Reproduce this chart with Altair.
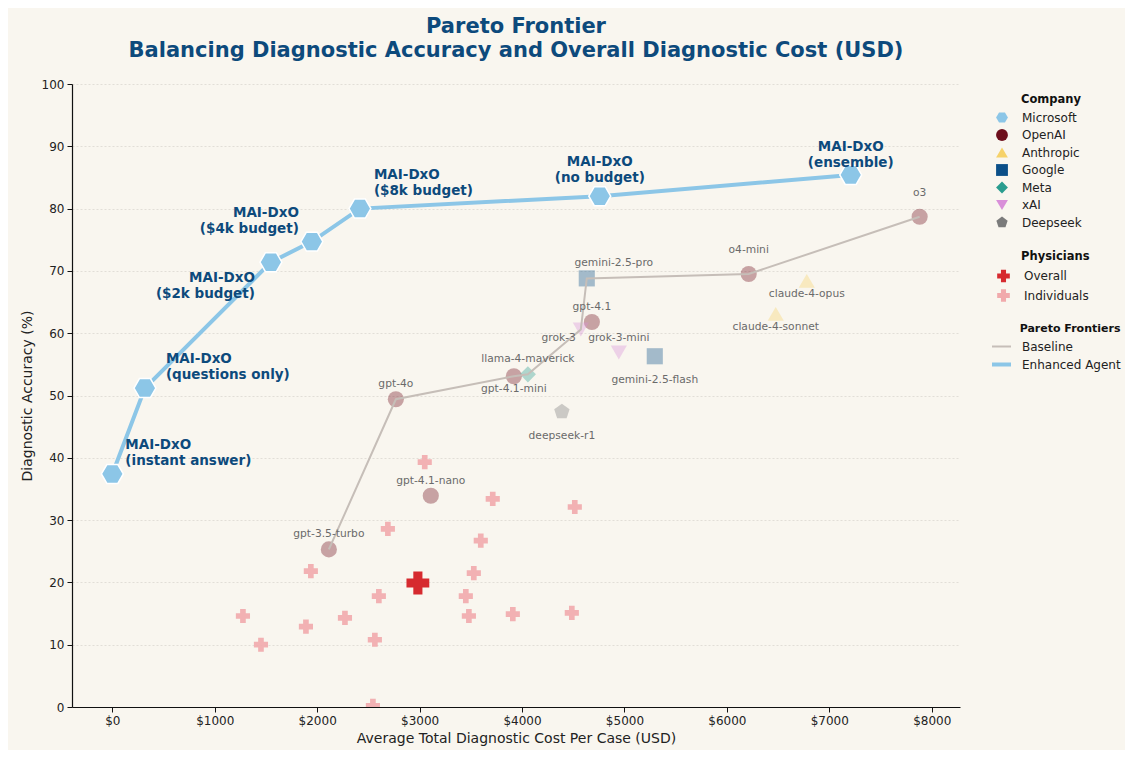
import altair as alt
import pandas as pd

FONT = "DejaVu Sans"
PAD = "\u200b" + "\u00a0" * 8   # indent legend titles to line up with the labels

# ---------------- data ----------------
companies = ["Microsoft", "OpenAI", "Anthropic", "Google", "Meta", "xAI", "Deepseek"]
company_colors = ["#8cc6e7", "#6e0f1c", "#f6d26a", "#0b4f88", "#2a9d8f", "#d98fd9", "#7b7b7b"]
HEXAGON = "M-1,0L-0.5,-0.866L0.5,-0.866L1,0L0.5,0.866L-0.5,0.866Z"
PENTAGON = "M0,-1L0.951,-0.309L0.588,0.809L-0.588,0.809L-0.951,-0.309Z"
company_shapes = [HEXAGON, "circle", "triangle-up", "square", "diamond", "triangle-down", PENTAGON]

# MAI-DxO (Microsoft, enhanced agent)
mai_labels = ["instant answer", "questions only", "$2k budget", "$4k budget",
              "$8k budget", "no budget", "ensemble"]
mai_cost = [0, 318, 1548, 1948, 2417, 4759, 7209]
mai_acc = [37.4, 51.2, 71.4, 74.7, 80.0, 82.0, 85.4]

# Baseline models
model_names = ["o3", "o4-mini", "gpt-4.1", "gpt-4.1-mini", "gpt-4o", "gpt-4.1-nano",
               "gpt-3.5-turbo", "gemini-2.5-pro", "gemini-2.5-flash", "claude-4-opus",
               "claude-4-sonnet", "grok-3", "grok-3-mini", "llama-4-maverick", "deepseek-r1"]
model_company = ["OpenAI", "OpenAI", "OpenAI", "OpenAI", "OpenAI", "OpenAI", "OpenAI",
                 "Google", "Google", "Anthropic", "Anthropic", "xAI", "xAI", "Meta", "Deepseek"]
model_cost = [7882, 6213, 4682, 3920, 2768, 3109, 2114, 4632, 5296, 6780, 6477, 4574, 4945, 4057, 4389]
model_acc = [78.7, 69.5, 61.8, 53.1, 49.4, 33.9, 25.3, 68.8, 56.3, 68.4, 63.1, 60.6, 56.9, 53.4, 47.4]

baseline_frontier = ["gpt-3.5-turbo", "gpt-4o", "gpt-4.1-mini", "llama-4-maverick",
                     "grok-3", "gemini-2.5-pro", "o4-mini", "o3"]

# Physicians
phys_cost = [3050, 3714, 4515, 2690, 3597, 1938, 3529, 2602, 3451, 1275, 2271, 3481,
             3910, 4486, 1890, 1451, 2563, 2544]
phys_acc = [39.3, 33.4, 32.1, 28.6, 26.7, 21.8, 21.5, 17.8, 17.8, 14.6, 14.3, 14.6,
            14.9, 15.1, 12.9, 10.0, 10.8, 0.2]
overall_cost = [2983]
overall_acc = [19.9]

phys_types = ["Overall", "Individuals"]
phys_colors = ["#d62a2f", "#f1aaac"]
frontier_types = ["Baseline", "Enhanced Agent"]
frontier_colors = ["#c6beb8", "#8cc6e7"]

# ---------------- tables ----------------
df_models = pd.DataFrame({"name": model_names, "company": model_company,
                          "cost": model_cost, "acc": model_acc})
df_mai = pd.DataFrame({"name": mai_labels, "company": "Microsoft",
                       "cost": mai_cost, "acc": mai_acc})
df_mai["label"] = ["MAI-DxO\n(" + s + ")" for s in mai_labels]

rows = []
for i, n in enumerate(baseline_frontier):
    j = model_names.index(n)
    rows.append({"frontier": "Baseline", "cost": model_cost[j], "acc": model_acc[j], "ord": i})
for i, (c, a) in enumerate(zip(mai_cost, mai_acc)):
    rows.append({"frontier": "Enhanced Agent", "cost": c, "acc": a, "ord": i})
df_frontier = pd.DataFrame(rows)

df_phys = pd.DataFrame({"type": "Individuals", "cost": phys_cost, "acc": phys_acc})
df_overall = pd.DataFrame({"type": "Overall", "cost": overall_cost, "acc": overall_acc})

# ---------------- encodings ----------------
X = alt.X("cost:Q",
          scale=alt.Scale(domain=[-394, 8276], nice=False, zero=False),
          axis=alt.Axis(title="Average Total Diagnostic Cost Per Case (USD)",
                        values=list(range(0, 8001, 1000)),
                        labelExpr="'$' + datum.value", grid=False))
Y = alt.Y("acc:Q",
          scale=alt.Scale(domain=[0, 100], nice=False),
          axis=alt.Axis(title="Diagnostic Accuracy (%)", values=list(range(0, 101, 10)),
                        grid=True, gridColor="#dcd8d0", gridDash=[2, 2], gridWidth=0.8))

company_legend = alt.Legend(title=["", PAD + "Company"], titleLineHeight=8,
                            symbolOpacity=1, symbolStrokeWidth=0,
                            symbolSize=140, symbolOffset=7, labelOffset=14)
color_company = alt.Color("company:N",
                          scale=alt.Scale(domain=companies, range=company_colors),
                          legend=company_legend)
shape_company = alt.Shape("company:N",
                          scale=alt.Scale(domain=companies, range=company_shapes),
                          legend=company_legend)

phys_legend = alt.Legend(title=["", PAD + "Physicians"], titleLineHeight=10,
                         symbolOpacity=1, symbolSize=160, symbolOffset=7, labelOffset=13)
fill_phys = alt.Fill("type:N", scale=alt.Scale(domain=phys_types, range=phys_colors),
                     legend=phys_legend)

front_legend = alt.Legend(title=["", PAD + "Pareto Frontiers"], titleLineHeight=9,
                          titleFontSize=11, symbolSize=361, symbolOffset=1, labelOffset=9,
                          rowPadding=0, titlePadding=2)
stroke_front = alt.Stroke("frontier:N",
                          scale=alt.Scale(domain=frontier_types, range=frontier_colors),
                          legend=front_legend)
width_front = alt.StrokeWidth("frontier:N",
                              scale=alt.Scale(domain=frontier_types, range=[2.0, 4]),
                              legend=front_legend)

# ---------------- layers ----------------
others = alt.Chart(df_models).mark_point(filled=True, size=260, opacity=0.36).encode(
    x=X, y=Y, color=color_company, shape=shape_company)

individuals = alt.Chart(df_phys).mark_point(filled=True, shape="cross", size=200,
                                            opacity=0.9, clip=True).encode(
    x=X, y=Y, fill=fill_phys)

overall = alt.Chart(df_overall).mark_point(filled=True, shape="cross", size=520,
                                           opacity=1).encode(
    x=X, y=Y, fill=fill_phys)

lines = alt.Chart(df_frontier).mark_line().encode(
    x=X, y=Y, stroke=stroke_front, strokeWidth=width_front, order="ord:Q")

ms = alt.Chart(df_mai).mark_point(filled=True, size=480, stroke="white",
                                  strokeWidth=1.5, opacity=1).encode(
    x=X, y=Y, color=color_company, shape=shape_company)


def model_label(names, dx, dy, align="center"):
    return alt.Chart(df_models).transform_filter(
        alt.FieldOneOfPredicate(field="name", oneOf=names)
    ).mark_text(align=align, baseline="middle", dx=dx, dy=dy, font=FONT,
                fontSize=10.7, color="#6a6a6a").encode(x=X, y=Y, text="name:N")


def mai_label(name, dx, dy, align):
    return alt.Chart(df_mai).transform_filter(
        alt.datum.name == name
    ).mark_text(align=align, baseline="middle", dx=dx, dy=dy, font=FONT,
                fontSize=13.5, fontWeight="bold", color="#0d4a7c",
                lineBreak="\n", lineHeight=16).encode(x=X, y=Y, text="label:N")


text_layers = [
    model_label(["gpt-4.1", "grok-3-mini", "llama-4-maverick", "gpt-4o",
                 "gpt-4.1-nano", "gpt-3.5-turbo"], 0, -15),
    model_label(["o3", "o4-mini"], 0, -24),
    model_label(["claude-4-opus", "claude-4-sonnet", "gpt-4.1-mini"], 0, 13),
    model_label(["gemini-2.5-flash", "deepseek-r1"], 0, 24),
    model_label(["gemini-2.5-pro"], 27, -15),
    model_label(["grok-3"], -5, 9, align="right"),
    mai_label("instant answer", 13, -29, "left"),
    mai_label("questions only", 21, -29, "left"),
    mai_label("$2k budget", -16, 16, "right"),
    mai_label("$4k budget", -13, -29, "right"),
    mai_label("$8k budget", 14, -34, "left"),
    mai_label("no budget", 0, -34, "center"),
    mai_label("ensemble", 0, -28, "center"),
]

chart = alt.layer(others, individuals, overall, lines, ms, *text_layers).properties(
    width=888, height=623,
    background="#f9f6ef",
    autosize=alt.AutoSizeParams(type="none"),
    padding={"left": 64, "top": 76, "right": 165, "bottom": 43},
    title=alt.TitleParams(
        text=["Pareto Frontier",
              "Balancing Diagnostic Accuracy and Overall Diagnostic Cost (USD)"],
        font=FONT, fontSize=21, fontWeight="bold", color="#0d4a7c",
        anchor="middle", frame="group", lineHeight=24, offset=17),
).configure_view(stroke=None).configure_axis(
    domainColor="#111", tickColor="#111", tickSize=5, domainWidth=1.2,
    labelColor="#222", titleColor="#222", labelFont=FONT, titleFont=FONT,
    labelFontSize=12, titleFontSize=14, titleFontWeight="normal", labelPadding=3,
).configure_axisY(titlePadding=7).configure_axisX(titlePadding=5).configure_legend(
    titleFont=FONT, labelFont=FONT, titleFontSize=11.5, labelFontSize=12,
    titleFontWeight="bold", titleColor="#111", labelColor="#222",
    rowPadding=5.5, padding=2, titlePadding=6, offset=27,
)

chart.save("out.html", embed_options={"renderer": "svg", "actions": False})
